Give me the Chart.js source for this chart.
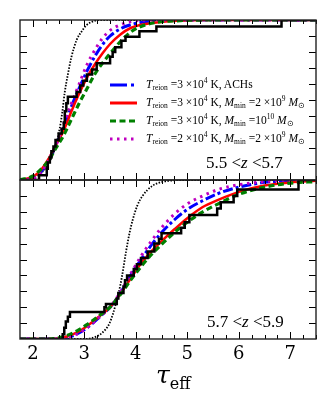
<!DOCTYPE html>
<html>
<head>
<meta charset="utf-8">
<script src="https://cdn.jsdelivr.net/npm/chart.js@4.4.0/dist/chart.umd.min.js"></script>
<style>
  body { margin: 0; background: #fff; width: 333px; height: 399px; overflow: hidden; position: relative; font-family: "DejaVu Serif", serif; color: #000; }
  canvas { position: absolute; left: 0; }
  #topChart { top: 0; }
  #botChart { top: 170px; }
  .legend { position: absolute; left: 110px; top: 72px; font-family: "Liberation Serif", serif; font-size: 11.5px; line-height: 18px; white-space: nowrap; }
  .legend div { height: 18px; }
  .legend svg { vertical-align: middle; margin-right: 9px; }
  .sb { font-size: 7.5px; vertical-align: -2px; }
  .sp { font-size: 7.5px; vertical-align: 5px; }
  .zlab { position: absolute; white-space: nowrap; font-family: "Liberation Serif", serif; }
  .xtitle { position: absolute; left: 156px; top: 360px; font-size: 25px; white-space: nowrap; }
  .xtitle span { font-size: 16px; vertical-align: -6px; font-style: normal; }
</style>
</head>
<body>
<canvas id="topChart" width="333" height="190"></canvas>
<canvas id="botChart" width="333" height="229"></canvas>

<div class="legend">
  <div><svg width="27" height="8"><line x1="0" y1="4" x2="27" y2="4" stroke="#0000ff" stroke-width="3" stroke-dasharray="17 4 3 4"/></svg><i>T</i><span class="sb">reion</span> =3 ×10<span class="sp">4</span> K, ACHs</div>
  <div><svg width="27" height="8"><line x1="0" y1="4" x2="27" y2="4" stroke="#ff0000" stroke-width="3"/></svg><i>T</i><span class="sb">reion</span> =3 ×10<span class="sp">4</span> K, <i>M</i><span class="sb">min</span> =2 ×10<span class="sp">9</span> <i>M</i><span class="sb">⊙</span></div>
  <div><svg width="27" height="8"><line x1="0" y1="4" x2="27" y2="4" stroke="#008000" stroke-width="3.2" stroke-dasharray="6 3.5"/></svg><i>T</i><span class="sb">reion</span> =3 ×10<span class="sp">4</span> K, <i>M</i><span class="sb">min</span> =10<span class="sp">10</span> <i>M</i><span class="sb">⊙</span></div>
  <div><svg width="27" height="8"><line x1="0" y1="4" x2="27" y2="4" stroke="#bf00bf" stroke-width="3" stroke-dasharray="2.5 4.5"/></svg><i>T</i><span class="sb">reion</span> =2 ×10<span class="sp">4</span> K, <i>M</i><span class="sb">min</span> =2 ×10<span class="sp">9</span> <i>M</i><span class="sb">⊙</span></div>
</div>

<div class="zlab" style="left:206px; top:153px; font-size:17px;">5.5 &lt;<i>z</i> &lt;5.7</div>
<div class="zlab" style="left:207px; top:312px; font-size:17px;">5.7 &lt;<i>z</i> &lt;5.9</div>
<div class="xtitle"><i>τ</i><span>eff</span></div>

<script>
// axis setup
const X_MIN = 1.75;
const X_MAX = 7.5;
const xMajorTicks = [2, 3, 4, 5, 6, 7];
const xMinorStep = 0.25;
const yTicks = [0.1, 0.2, 0.3, 0.4, 0.5, 0.6, 0.7, 0.8, 0.9];

// 5.5 < z < 5.7 : observed cumulative distribution (steps)
const obsTopTau = [1.75, 2.12, 2.27, 2.29, 2.33, 2.36, 2.40, 2.44, 2.50, 2.56, 2.60, 2.62, 2.65, 2.68, 2.85, 2.92, 2.98, 3.05, 3.15, 3.24, 3.50, 3.55, 3.60, 3.72, 3.80, 4.07, 4.40, 6.83, 7.5];
const obsTopCdf = [0, 0.03, 0.07, 0.11, 0.14, 0.18, 0.21, 0.25, 0.29, 0.32, 0.36, 0.43, 0.48, 0.52, 0.55, 0.59, 0.62, 0.66, 0.69, 0.73, 0.77, 0.80, 0.83, 0.87, 0.895, 0.93, 0.96, 1.0, 1.0];

// 5.5 < z < 5.7 : models
const modelTopTau = [1.75, 2.0, 2.15, 2.3, 2.45, 2.6, 2.75, 2.9, 3.05, 3.2, 3.35, 3.5, 3.7, 3.9, 4.1, 4.4, 4.8, 5.4, 7.5];
const achsTop     = [0, 0.015, 0.05, 0.12, 0.22, 0.33, 0.46, 0.575, 0.68, 0.77, 0.845, 0.9, 0.945, 0.97, 0.985, 0.995, 1, 1, 1];
const mmin2e9Top  = [0, 0.02, 0.06, 0.13, 0.22, 0.31, 0.43, 0.54, 0.64, 0.72, 0.79, 0.85, 0.91, 0.95, 0.97, 0.985, 0.995, 1, 1];
const mmin1e10Top = [0, 0.025, 0.065, 0.12, 0.2, 0.28, 0.38, 0.48, 0.57, 0.66, 0.73, 0.79, 0.865, 0.925, 0.96, 0.985, 0.995, 1, 1];
const t2e4Top     = [0, 0.01, 0.04, 0.12, 0.22, 0.35, 0.48, 0.6, 0.72, 0.81, 0.885, 0.935, 0.97, 0.99, 0.998, 1, 1, 1, 1];
const dotTopTau   = [1.75, 2.0, 2.2, 2.35, 2.45, 2.52, 2.57, 2.62, 2.68, 2.75, 2.85, 2.95, 3.05, 3.2, 3.35, 7.5];
const dotTopCdf   = [0, 0.015, 0.055, 0.13, 0.22, 0.32, 0.42, 0.55, 0.66, 0.77, 0.875, 0.93, 0.97, 0.995, 1, 1];

// 5.7 < z < 5.9 : observed cumulative distribution (steps)
const obsBotTau = [1.75, 2.58, 2.61, 2.64, 2.68, 2.72, 3.39, 3.42, 3.63, 3.66, 3.76, 3.79, 3.83, 3.96, 4.02, 4.10, 4.23, 4.36, 4.45, 4.50, 4.88, 4.95, 5.04, 5.58, 5.65, 5.90, 5.97, 7.16, 7.5];
const obsBotCdf = [0, 0.03, 0.07, 0.11, 0.14, 0.17, 0.20, 0.22, 0.255, 0.29, 0.33, 0.37, 0.40, 0.44, 0.47, 0.51, 0.55, 0.60, 0.63, 0.665, 0.70, 0.735, 0.78, 0.82, 0.86, 0.90, 0.94, 1.0, 1.0];

// 5.7 < z < 5.9 : models
const modelBotTau = [1.75, 2.3, 2.6, 2.85, 3.05, 3.3, 3.5, 3.7, 3.9, 4.1, 4.3, 4.5, 4.75, 5.0, 5.3, 5.6, 6.0, 6.5, 7.0, 7.5];
const achsBot     = [0, 0, 0.005, 0.03, 0.07, 0.14, 0.2, 0.29, 0.4, 0.5, 0.59, 0.67, 0.75, 0.815, 0.87, 0.915, 0.955, 0.985, 0.995, 1];
const mmin2e9Bot  = [0, 0, 0.01, 0.04, 0.08, 0.145, 0.2, 0.285, 0.38, 0.475, 0.55, 0.615, 0.69, 0.76, 0.83, 0.875, 0.925, 0.965, 0.985, 0.995];
const mmin1e10Bot = [0, 0, 0.015, 0.05, 0.09, 0.15, 0.2, 0.28, 0.37, 0.455, 0.53, 0.595, 0.67, 0.735, 0.8, 0.85, 0.91, 0.955, 0.98, 0.99];
const t2e4Bot     = [0, 0, 0.005, 0.03, 0.07, 0.14, 0.2, 0.295, 0.41, 0.52, 0.615, 0.7, 0.785, 0.85, 0.9, 0.94, 0.97, 0.99, 1, 1];
const dotBotTau   = [1.75, 3.0, 3.23, 3.35, 3.49, 3.62, 3.7, 3.75, 3.81, 3.88, 3.94, 4.03, 4.13, 4.33, 4.65, 5.0, 7.5];
const dotBotCdf   = [0, 0, 0.015, 0.04, 0.1, 0.23, 0.34, 0.43, 0.55, 0.67, 0.75, 0.84, 0.9, 0.965, 0.995, 1, 1];

function pts(xs, ys) {
  return xs.map((x, i) => ({ x, y: ys[i] }));
}

function buildDatasets(p) {
  return [
    { data: pts(p.obsTau, p.obsCdf), borderColor: "#000", borderWidth: 2.5, stepped: "before" },
    { data: pts(p.modelTau, p.m1e10), borderColor: "#008000", borderWidth: 3.2, borderDash: [6, 3.5], cubicInterpolationMode: "monotone" },
    { data: pts(p.modelTau, p.t2e4), borderColor: "#bf00bf", borderWidth: 3, borderDash: [2.5, 4.5], cubicInterpolationMode: "monotone" },
    { data: pts(p.modelTau, p.m2e9), borderColor: "#ff0000", borderWidth: 2.5, cubicInterpolationMode: "monotone" },
    { data: pts(p.modelTau, p.achs), borderColor: "#0000ff", borderWidth: 3, borderDash: [10, 3, 3, 3], cubicInterpolationMode: "monotone" },
    { data: pts(p.dotTau, p.dotCdf), borderColor: "#000", borderWidth: 1.8, borderDash: [1.5, 1.5], cubicInterpolationMode: "monotone" },
  ];
}

// frame plus inward ticks on all four sides
const frameTicks = {
  id: "frameTicks",
  afterDatasetsDraw(chart) {
    const { ctx, chartArea: a, scales } = chart;
    const x = scales.x, y = scales.y;
    ctx.save();
    ctx.strokeStyle = "#000";
    ctx.lineWidth = 1;
    const seg = (x1, y1, x2, y2) => { ctx.beginPath(); ctx.moveTo(x1, y1); ctx.lineTo(x2, y2); ctx.stroke(); };
    for (let v = 2; v <= X_MAX; v += xMinorStep) {
      const px = Math.round(x.getPixelForValue(v)) + 0.5;
      const len = xMajorTicks.includes(v) ? 7 : 4;
      seg(px, a.top, px, a.top + len);
      seg(px, a.bottom, px, a.bottom - len);
    }
    yTicks.forEach((v) => {
      const py = Math.round(y.getPixelForValue(v)) + 0.5;
      seg(a.left, py, a.left + 7, py);
      seg(a.right, py, a.right - 7, py);
    });
    ctx.strokeStyle = "#222";
    ctx.lineWidth = 1.4;
    ctx.strokeRect(a.left, a.top, a.right - a.left, a.bottom - a.top);
    ctx.restore();
  },
};

function makeChart(id, p, withLabels, padding) {
  const xScale = {
    type: "linear",
    min: X_MIN,
    max: X_MAX,
    display: withLabels,
    grid: { display: false, drawTicks: false },
    border: { display: false },
    afterBuildTicks(scale) { scale.ticks = xMajorTicks.map((v) => ({ value: v })); },
    ticks: { color: "#000", padding: 5, font: { family: "DejaVu Serif", size: 18 } },
  };
  if (withLabels) xScale.afterFit = (scale) => { scale.height = 40; };

  return new Chart(document.getElementById(id), {
    type: "line",
    data: { datasets: buildDatasets(p) },
    options: {
      responsive: false,
      animation: false,
      layout: { padding },
      elements: { point: { radius: 0 } },
      plugins: { legend: { display: false }, tooltip: { enabled: false } },
      scales: {
        x: xScale,
        y: { min: 0, max: 1, display: false },
      },
    },
    plugins: [frameTicks],
  });
}

makeChart("topChart", {
  obsTau: obsTopTau, obsCdf: obsTopCdf, modelTau: modelTopTau,
  achs: achsTop, m2e9: mmin2e9Top, m1e10: mmin1e10Top, t2e4: t2e4Top,
  dotTau: dotTopTau, dotCdf: dotTopCdf,
}, false, { left: 20, right: 17, top: 20, bottom: 10 });

makeChart("botChart", {
  obsTau: obsBotTau, obsCdf: obsBotCdf, modelTau: modelBotTau,
  achs: achsBot, m2e9: mmin2e9Bot, m1e10: mmin1e10Bot, t2e4: t2e4Bot,
  dotTau: dotBotTau, dotCdf: dotBotCdf,
}, true, { left: 20, right: 17, top: 10, bottom: 20 });
</script>
</body>
</html>
